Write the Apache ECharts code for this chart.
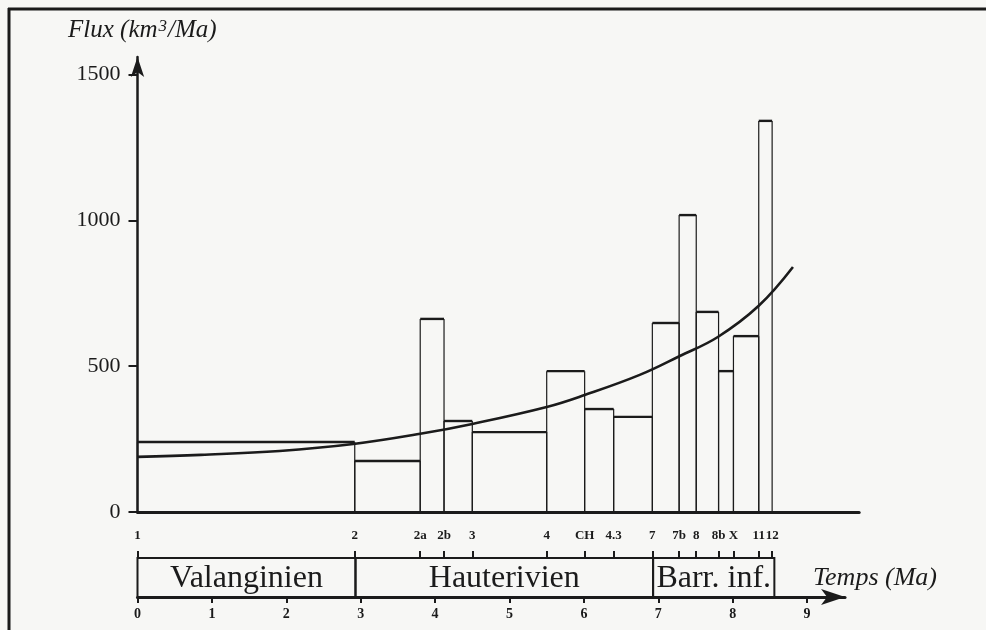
<!DOCTYPE html>
<html>
<head>
<meta charset="utf-8">
<script src="https://cdn.jsdelivr.net/npm/echarts@6/dist/echarts.min.js"></script>
<style>
  html, body { margin: 0; padding: 0; background: #f7f7f5; }
  #chart { width: 986px; height: 630px; }
</style>
</head>
<body>
<div id="chart"></div>
<script>
// Well positions along the time axis (Ma) and their labels
const wells = [0, 2.92, 3.80, 4.12, 4.50, 5.50, 6.01, 6.40, 6.92, 7.28, 7.51, 7.81, 8.01, 8.35, 8.53];
const wellNames = ['1', '2', '2a', '2b', '3', '4', 'CH', '4.3', '7', '7b', '8', '8b', 'X', '11', '12'];
// Sediment flux between consecutive wells (km3/Ma)
const flux = [240, 175, 662, 312, 274, 483, 353, 326, 648, 1018, 686, 483, 603, 1341];
// Fitted flux trend
const curveTime = [0, 0.85, 1.91, 2.90, 3.80, 4.50, 5.50, 6.01, 6.75, 7.29, 7.80, 8.35, 8.81];
const curveFlux = [189, 196, 209, 233, 268, 302, 360, 401, 470, 535, 600, 707, 840];
// Stratigraphic stages
const stageNames = ['Valanginien', 'Hauterivien', 'Barr. inf.'];
const stageBounds = [0, 2.93, 6.93, 8.56];
// Axis ticks
const fluxTicks = [0, 500, 1000, 1500];
const timeTicks = [0, 1, 2, 3, 4, 5, 6, 7, 8, 9];

const INK = '#1b1b1b';
const SERIF = '"Liberation Serif", "Times New Roman", serif';
const PX_PER_MA = 74.4;
const LEFT = 137.5;

const barData = flux.map((v, i) => [wells[i], wells[i + 1], v]);
const curveData = curveTime.map((t, i) => [t, curveFlux[i]]);
const stageData = stageNames.map((n, i) => [stageBounds[i], stageBounds[i + 1], n]);

const mainMax = 9.7;
const timeMax = 9.51;

const chart = echarts.init(document.getElementById('chart'), null, { renderer: 'canvas' });

chart.setOption({
  backgroundColor: '#f7f7f5',
  animation: false,
  title: {
    left: 63,
    top: 13,
    text: '{a|Flux (km}{s|3}{a|/Ma)}',
    textStyle: {
      fontWeight: 'normal',
      rich: {
        a: { fontFamily: SERIF, fontStyle: 'italic', fontWeight: 'normal', fontSize: 25, color: INK },
        s: { fontFamily: SERIF, fontStyle: 'italic', fontWeight: 'normal', fontSize: 17, color: INK, verticalAlign: 'top', padding: [0, 1, 0, 1] }
      }
    }
  },
  grid: [
    { left: LEFT, top: 57, height: 455, width: mainMax * PX_PER_MA },
    { left: LEFT, top: 558, height: 39, width: timeMax * PX_PER_MA }
  ],
  xAxis: [
    {
      gridIndex: 0, type: 'value', min: 0, max: mainMax,
      axisLine: { show: true, lineStyle: { color: INK, width: 3 } },
      axisTick: { show: false }, axisLabel: { show: false }, splitLine: { show: false }
    },
    {
      gridIndex: 1, type: 'value', min: 0, max: timeMax, position: 'bottom',
      axisLine: { show: true, symbol: ['none', 'arrow'], symbolSize: [12, 24], lineStyle: { color: INK, width: 3 } },
      axisTick: { show: true, customValues: timeTicks, length: 6, lineStyle: { color: INK, width: 2 } },
      axisLabel: { show: true, customValues: timeTicks, margin: 10, hideOverlap: false,
        fontFamily: SERIF, fontWeight: 'bold', fontSize: 14, color: INK },
      splitLine: { show: false }
    },
    {
      gridIndex: 1, type: 'value', min: 0, max: timeMax, position: 'top',
      axisLine: { show: false },
      axisTick: { show: true, customValues: wells, length: 7, lineStyle: { color: INK, width: 2 } },
      axisLabel: {
        show: true, customValues: wells, margin: 16, hideOverlap: false,
        fontFamily: SERIF, fontWeight: 'bold', fontSize: 13, color: INK,
        formatter: (val) => wellNames[wells.indexOf(val)]
      },
      splitLine: { show: false }
    }
  ],
  yAxis: [
    {
      gridIndex: 0, type: 'value', min: 0, max: 1560,
      axisLine: { show: true, symbol: ['none', 'arrow'], symbolSize: [10, 20], lineStyle: { color: INK, width: 2.5 } },
      axisTick: { show: true, customValues: fluxTicks, length: 9, lineStyle: { color: INK, width: 2 } },
      axisLabel: { show: true, customValues: fluxTicks, margin: 17, fontFamily: SERIF, fontSize: 22, color: INK,
        formatter: (val) => String(val) },
      splitLine: { show: false }
    },
    { gridIndex: 1, type: 'value', min: 0, max: 1, show: false }
  ],
  series: [
    {
      // Flux histogram: thin sides, heavy tops
      type: 'custom',
      xAxisIndex: 0, yAxisIndex: 0,
      data: barData,
      renderItem: (params, api) => {
        const a = api.coord([api.value(0), 0]);
        const b = api.coord([api.value(1), api.value(2)]);
        const thin = { stroke: INK, lineWidth: 1.2 };
        const thick = { stroke: INK, lineWidth: 2.4 };
        return {
          type: 'group',
          children: [
            { type: 'line', shape: { x1: a[0], y1: a[1], x2: a[0], y2: b[1] }, style: thin },
            { type: 'line', shape: { x1: b[0], y1: a[1], x2: b[0], y2: b[1] }, style: thin },
            { type: 'line', shape: { x1: a[0], y1: b[1], x2: b[0], y2: b[1] }, style: thick }
          ]
        };
      },
      z: 3
    },
    {
      type: 'line',
      xAxisIndex: 0, yAxisIndex: 0,
      data: curveData,
      smooth: 0.4,
      showSymbol: false,
      lineStyle: { color: INK, width: 2.6 },
      z: 4
    },
    {
      // Stage band under the well markers
      type: 'custom',
      xAxisIndex: 2, yAxisIndex: 1,
      data: stageData,
      renderItem: (params, api) => {
        const a = api.coord([api.value(0), 1]);
        const b = api.coord([api.value(1), 0]);
        const name = stageNames[params.dataIndex];
        return {
          type: 'group',
          children: [
            { type: 'rect', shape: { x: a[0], y: a[1], width: b[0] - a[0], height: b[1] - a[1] },
              style: { fill: 'none', stroke: INK, lineWidth: 2 } },
            { type: 'text', x: (a[0] + b[0]) / 2, y: (a[1] + b[1]) / 2 + 1,
              style: { text: name, fontFamily: SERIF, fontSize: 32, fill: INK, align: 'center', verticalAlign: 'middle' } }
          ]
        };
      },
      z: 3
    }
  ],
  graphic: [
    { type: 'line', shape: { x1: 9, y1: 8, x2: 9, y2: 630 }, style: { stroke: INK, lineWidth: 3 } },
    { type: 'line', shape: { x1: 8, y1: 9, x2: 986, y2: 9 }, style: { stroke: INK, lineWidth: 3 } },
    { type: 'text', x: 813, y: 578,
      style: { text: 'Temps (Ma)', fontFamily: SERIF, fontStyle: 'italic', fontSize: 26, fill: INK, verticalAlign: 'middle' } }
  ]
});
</script>
</body>
</html>
